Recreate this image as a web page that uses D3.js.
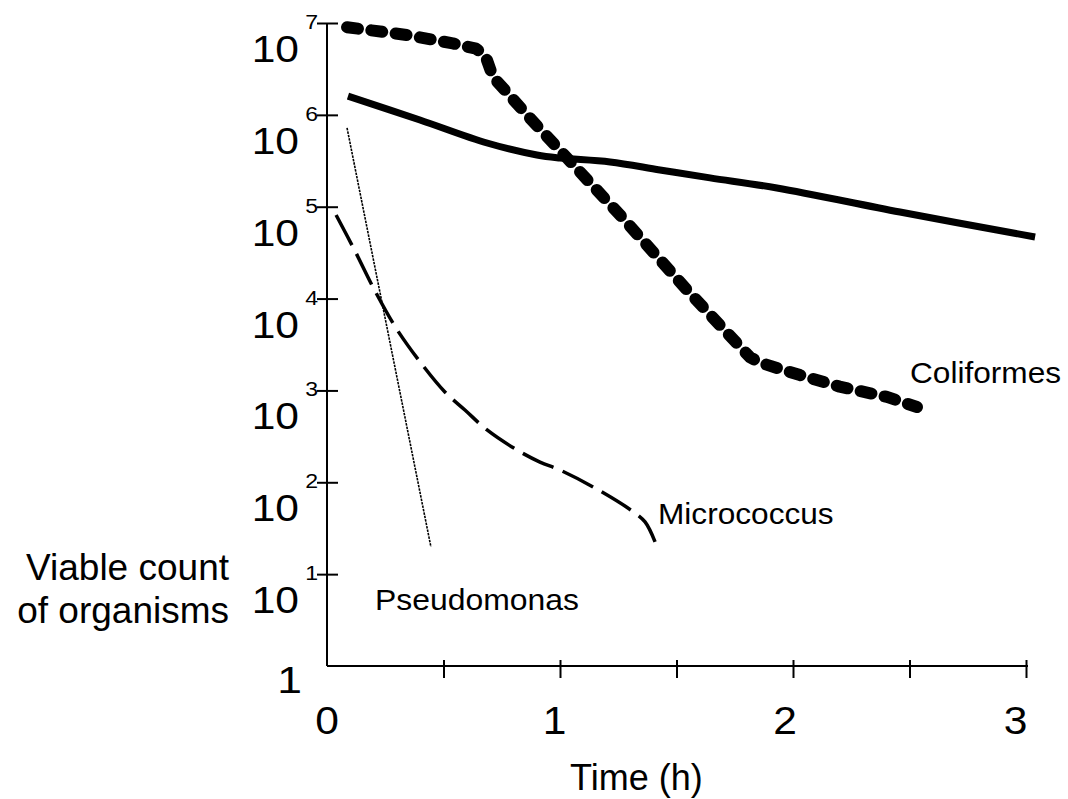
<!DOCTYPE html>
<html>
<head>
<meta charset="utf-8">
<script src="https://cdn.jsdelivr.net/npm/d3@7"></script>
<style>
  html, body { margin: 0; padding: 0; background: #fff; }
  svg text { font-family: "Liberation Sans", Arial, Helvetica, sans-serif; fill: #000; }
</style>
</head>
<body>
<svg id="chart" width="1068" height="799"></svg>
<script>
// ---- data ----
const xTicks = [0, 0.5, 1, 1.5, 2, 2.5, 3];
const xLabels = [0, 1, 2, 3];
const yExponents = [0, 1, 2, 3, 4, 5, 6, 7];

// Coliformes (thick dashed)
const coliTime  = [0.086, 0.343, 0.54, 0.64, 0.68, 0.712, 0.871, 1.0, 1.266, 1.545, 1.815, 1.86, 2.03, 2.2, 2.403, 2.532];
const coliCount = [9.0e6, 7.4e6, 6.0e6, 5.25e6, 4.4e6, 2.6e6, 9.2e5, 4.1e5, 7.7e4, 1.24e4, 2.3e3, 2.0e3, 1.47e3, 1.1e3, 850, 660];

// unlabeled solid line
const solidTime  = [0.09, 0.399, 0.687, 0.901, 1.0, 1.215, 1.429, 1.644, 1.931, 2.459, 3.039];
const solidCount = [1.6e6, 8.8e5, 4.94e5, 3.66e5, 3.39e5, 3.07e5, 2.51e5, 2.06e5, 1.6e5, 8.75e4, 4.68e4];

// Micrococcus (dashed)
const microTime  = [0.039, 0.120, 0.206, 0.296, 0.403, 0.506, 0.592, 0.687, 0.815, 0.914, 1.0, 1.142, 1.309, 1.365, 1.408];
const microCount = [8.13e4, 3.3e4, 1.21e4, 4.79e3, 1.99e3, 962, 612, 371, 225, 166, 136, 89, 48.8, 37, 22.4];

// Pseudomonas (thin dotted)
const pseudoTime  = [0.086, 0.446];
const pseudoCount = [7.2e5, 19.8];

const seriesLabels = ["Coliformes", "Micrococcus", "Pseudomonas"];
const xTitle = "Time (h)";
const yTitle = ["Viable count", "of organisms"];

// ---- scales ----
const svg = d3.select("#chart");
const x = d3.scaleLinear().domain([0, 3]).range([327, 1026]);
const y = d3.scaleLog().domain([1, 1e7]).range([666, 23]);

function stretch(sel, px, py, sx) {
  sel.attr("x", 0).attr("y", 0)
     .attr("transform", `translate(${px},${py}) scale(${sx},1)`);
  return sel;
}

// ---- axes ----
const yAxis = svg.append("g").attr("transform", `translate(${x(0)},0)`)
  .call(d3.axisLeft(y).tickValues(yExponents.map(e => Math.pow(10, e))).tickSize(10).tickFormat(""));
yAxis.select(".domain").attr("d", `M0,${y(1)}V${y(1e7)}`).attr("stroke", "#000").attr("stroke-width", 2);
yAxis.selectAll(".tick line").attr("x1", -10).attr("x2", 11).attr("stroke", "#000").attr("stroke-width", 2);
yAxis.selectAll(".tick").filter(d => d === 1).select("line").remove();

const xAxis = svg.append("g").attr("transform", `translate(0,${y(1)})`)
  .call(d3.axisBottom(x).tickValues(xTicks).tickSize(12).tickFormat(""));
xAxis.select(".domain").attr("d", `M${x(0)},0H${x(3) + 2}`).attr("stroke", "#000").attr("stroke-width", 2);
xAxis.selectAll(".tick line").attr("y1", -6).attr("y2", 12).attr("stroke", "#000").attr("stroke-width", 2);
xAxis.selectAll(".tick").filter(d => d === 0).select("line").remove();

// y tick labels
yExponents.forEach(e => {
  const v = Math.pow(10, e);
  if (e === 0) {
    stretch(svg.append("text").text("1").attr("font-size", 37).attr("text-anchor", "end"), 302, y(v) + 27, 1.2);
  } else {
    stretch(svg.append("text").text("10").attr("font-size", 37).attr("text-anchor", "end"), 299, y(v) + 39, 1.15);
    stretch(svg.append("text").text(String(e)).attr("font-size", 21).attr("text-anchor", "end"), 318, y(v) + 6, 1.1);
  }
});

// x tick labels
xLabels.forEach(d => {
  stretch(svg.append("text").text(String(d)).attr("font-size", 38).attr("text-anchor", "middle"),
    x(d) - (d === 0 ? 0 : 3 + 2.5 * d), y(1) + 68, 1.12);
});

// titles
svg.append("text").text(xTitle).attr("font-size", 36).attr("x", 570).attr("y", 790);
yTitle.forEach((t, i) => {
  svg.append("text").text(t).attr("font-size", 37).attr("text-anchor", "end")
    .attr("x", 229).attr("y", 580 + i * 43);
});

// ---- lines ----
const zip = (ts, cs) => ts.map((t, i) => [t, cs[i]]);

svg.append("path")
  .attr("d", d3.line().x(d => x(d[0])).y(d => y(d[1])).curve(d3.curveCatmullRom)(zip(solidTime, solidCount)))
  .attr("fill", "none").attr("stroke", "#000").attr("stroke-width", 7);

svg.append("path")
  .attr("d", d3.line().x(d => x(d[0])).y(d => y(d[1]))(zip(coliTime, coliCount)))
  .attr("fill", "none").attr("stroke", "#000").attr("stroke-width", 12)
  .attr("stroke-linecap", "round").attr("stroke-linejoin", "round")
  .attr("stroke-dasharray", "11,13.5");

svg.append("path")
  .attr("d", d3.line().x(d => x(d[0])).y(d => y(d[1])).curve(d3.curveCatmullRom)(zip(microTime, microCount)))
  .attr("fill", "none").attr("stroke", "#000").attr("stroke-width", 3.5)
  .attr("stroke-dasharray", "34,10");

svg.append("path")
  .attr("d", d3.line().x(d => x(d[0])).y(d => y(d[1]))(zip(pseudoTime, pseudoCount)))
  .attr("fill", "none").attr("stroke", "#000").attr("stroke-width", 1.6)
  .attr("stroke-dasharray", "2.5,1");

// series labels
stretch(svg.append("text").text(seriesLabels[0]).attr("font-size", 29), 910, 383, 1.09);
stretch(svg.append("text").text(seriesLabels[1]).attr("font-size", 29), 658, 524, 1.09);
stretch(svg.append("text").text(seriesLabels[2]).attr("font-size", 29), 375, 610, 1.1);
</script>
</body>
</html>
